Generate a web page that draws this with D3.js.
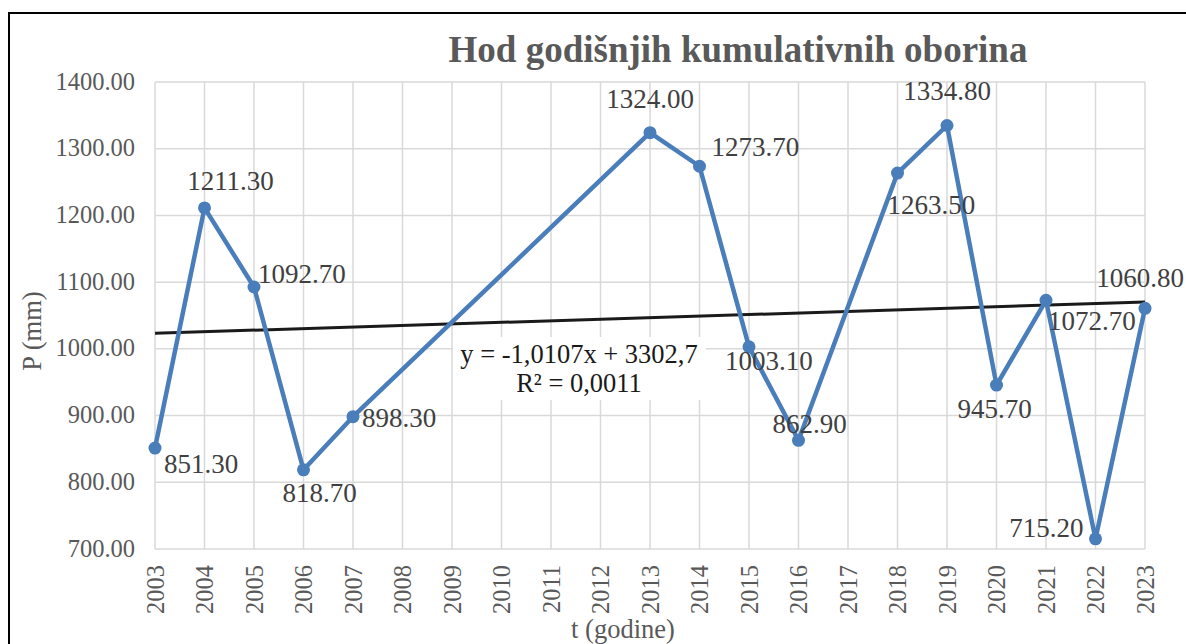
<!DOCTYPE html>
<html>
<head>
  <meta charset="utf-8">
  <script src="https://d3js.org/d3.v7.min.js"></script>
  <style>
    body { margin: 0; background: #ffffff; }
    svg text { font-family: "Liberation Serif", "DejaVu Serif", serif; }
    .grid line { stroke: #d9d9d9; stroke-width: 1.5; }
    .tick_label { fill: #595959; font-size: 24.5px; }
    .axis_title { fill: #595959; font-size: 26.5px; }
    .data_label { fill: #404040; font-size: 27px; }
  </style>
  <title>Hod godišnjih kumulativnih oborina</title>
</head>
<body>
  <svg></svg>
  <script>
    // observed years (2008-2012 and 2017 have no value)
    const years = [2003, 2004, 2005, 2006, 2007, 2013, 2014, 2015, 2016, 2018, 2019, 2020, 2021, 2022, 2023]
    const precip = [851.3, 1211.3, 1092.7, 818.7, 898.3, 1324.0, 1273.7, 1003.1, 862.9, 1263.5, 1334.8, 945.7, 1072.7, 715.2, 1060.8]
    const yTicks = [700, 800, 900, 1000, 1100, 1200, 1300, 1400]
    const xTicks = d3.range(2003, 2024)
    // linear trend as drawn (start / end value)
    const trendYears = [2003, 2023]
    const trendValues = [1023.3, 1070.2]
    const trendText = ["y = -1,0107x + 3302,7", "R² = 0,0011"]

    const width = 1186
    const height = 644
    const blue = "#4a7ebb"

    const svg = d3.select("svg")
      .attr("width", width)
      .attr("height", height)

    const x = d3.scaleLinear().domain([2003, 2023]).range([155, 1145])
    const y = d3.scaleLinear().domain([700, 1400]).range([549, 82])

    // frame
    svg.append("rect")
      .attr("x", 9).attr("y", 13)
      .attr("width", 1200).attr("height", 700)
      .attr("fill", "none")
      .attr("stroke", "#000")
      .attr("stroke-width", 2)

    // grid
    const grid = svg.append("g").attr("class", "grid")
    grid.selectAll(".hl")
      .data(yTicks)
      .enter().append("line")
      .attr("x1", x(2003)).attr("x2", x(2023))
      .attr("y1", d => y(d)).attr("y2", d => y(d))
    grid.selectAll(".vl")
      .data(xTicks)
      .enter().append("line")
      .attr("x1", d => x(d)).attr("x2", d => x(d))
      .attr("y1", y(1400)).attr("y2", y(700))

    // y tick labels
    svg.selectAll(".ylab")
      .data(yTicks)
      .enter().append("text")
      .attr("class", "tick_label")
      .attr("x", 135)
      .attr("y", d => y(d) + 7.5)
      .attr("text-anchor", "end")
      .text(d => d.toFixed(2))

    // x tick labels (rotated)
    svg.selectAll(".xlab")
      .data(xTicks)
      .enter().append("text")
      .attr("class", "tick_label")
      .attr("text-anchor", "end")
      .attr("transform", d => `translate(${x(d) + 8.5},565) rotate(-90)`)
      .text(d => d)

    // axis titles
    svg.append("text")
      .attr("class", "axis_title")
      .attr("x", 623).attr("y", 638)
      .attr("text-anchor", "middle")
      .text("t (godine)")

    svg.append("text")
      .attr("class", "axis_title")
      .attr("text-anchor", "middle")
      .attr("transform", "translate(41,331) rotate(-90)")
      .text("P (mm)")

    // title
    svg.append("text")
      .attr("x", 738).attr("y", 62)
      .attr("text-anchor", "middle")
      .attr("fill", "#595959")
      .style("font-size", "37px")
      .style("font-weight", "bold")
      .text("Hod godišnjih kumulativnih oborina")

    // trend line
    svg.append("line")
      .attr("x1", x(trendYears[0])).attr("y1", y(trendValues[0]))
      .attr("x2", x(trendYears[1])).attr("y2", y(trendValues[1]))
      .attr("stroke", "#1a1a1a")
      .attr("stroke-width", 3)

    const points = years.map((yr, i) => ({ year: yr, value: precip[i] }))

    svg.append("path")
      .datum(points)
      .attr("fill", "none")
      .attr("stroke", blue)
      .attr("stroke-width", 4.5)
      .attr("stroke-linejoin", "round")
      .attr("d", d3.line().x(d => x(d.year)).y(d => y(d.value)))

    svg.selectAll(".dot")
      .data(points)
      .enter().append("circle")
      .attr("cx", d => x(d.year))
      .attr("cy", d => y(d.value))
      .attr("r", 6.5)
      .attr("fill", blue)

    // label placement around each marker: [anchor, dx, dy]
    const place = {
      2003: ["start", 9, 25], 2004: ["middle", 26, -18], 2005: ["start", 4, -4],
      2006: ["middle", 16, 32], 2007: ["start", 9, 10], 2013: ["middle", 0, -25],
      2014: ["start", 12, -10], 2015: ["start", -24, 23], 2016: ["start", -26, -7],
      2018: ["start", -10, 41], 2019: ["middle", 0, -25], 2020: ["middle", -2, 33],
      2021: ["start", 2, 30], 2022: ["end", -12, -2], 2023: ["end", 39, -21]
    }

    svg.selectAll(".data_label")
      .data(points)
      .enter().append("text")
      .attr("class", "data_label")
      .attr("text-anchor", d => place[d.year][0])
      .attr("x", d => x(d.year) + place[d.year][1])
      .attr("y", d => y(d.value) + place[d.year][2])
      .text(d => d.value.toFixed(2))

    // equation box
    svg.append("rect")
      .attr("x", 453).attr("y", 337)
      .attr("width", 253).attr("height", 63)
      .attr("fill", "#ffffff")

    svg.selectAll(".eq")
      .data(trendText)
      .enter().append("text")
      .attr("x", 579)
      .attr("y", (d, i) => 363 + i * 29)
      .attr("text-anchor", "middle")
      .attr("fill", "#1a1a1a")
      .style("font-size", "26.5px")
      .text(d => d)
  </script>
</body>
</html>
